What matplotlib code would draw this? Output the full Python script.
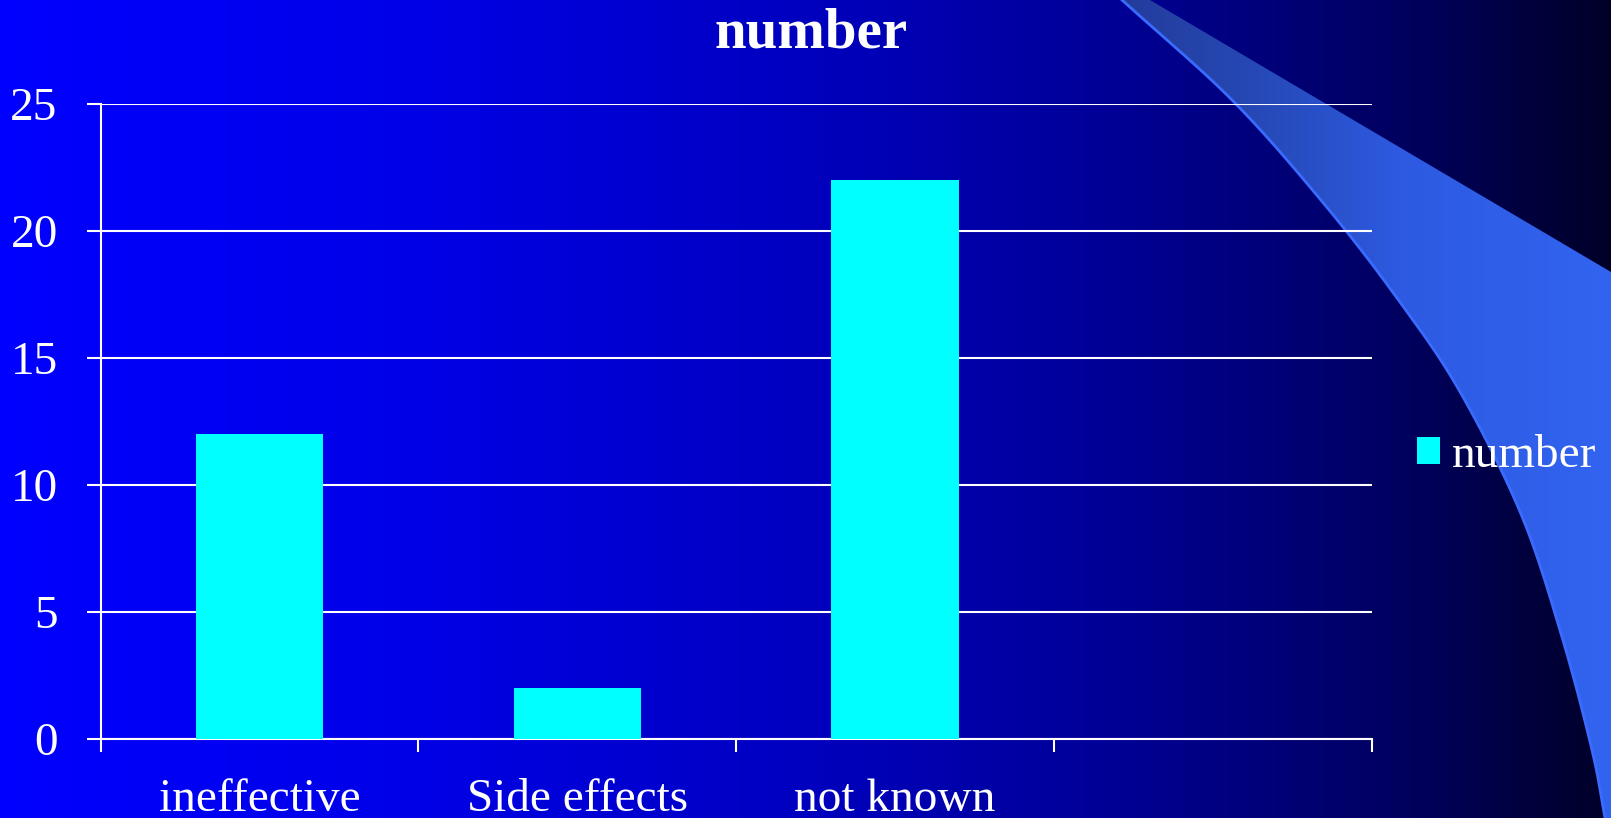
import numpy as np
import matplotlib
matplotlib.use("Agg")
import matplotlib.pyplot as plt
from matplotlib.patches import Polygon, Patch

# ---- data ----
categories = ["ineffective", "Side effects", "not known", ""]
values = [12, 2, 22]
series_name = "number"
title = "number"
yticks = [0, 5, 10, 15, 20, 25]

W, H = 1611, 818
fig = plt.figure(figsize=(W / 100, H / 100), dpi=100)
plt.rcParams['font.family'] = ['Liberation Serif', 'DejaVu Serif']


def catmull_rom(pts, n=30):
    pts = np.asarray(pts, float)
    P = np.vstack([2 * pts[0] - pts[1], pts, 2 * pts[-1] - pts[-2]])
    out = []
    for i in range(1, len(P) - 2):
        p0, p1, p2, p3 = P[i - 1], P[i], P[i + 1], P[i + 2]
        for t in np.linspace(0, 1, n, endpoint=False):
            t2, t3 = t * t, t * t * t
            out.append(0.5 * ((2 * p1) + (-p0 + p2) * t +
                              (2 * p0 - 5 * p1 + 4 * p2 - p3) * t2 +
                              (-p0 + 3 * p1 - 3 * p2 + p3) * t3))
    out.append(pts[-1])
    return np.array(out)


# ---- background (gradient + swoosh) ----
bg = fig.add_axes([0, 0, 1, 1], zorder=-10)
bg.set_xlim(0, W)
bg.set_ylim(H, 0)
bg.axis('off')
xs = np.arange(W)
stops_x = [0, 400, 800, 1100, 1400, 1611]
stops_b = [255, 232, 192, 152, 96, 40]
blue = np.interp(xs, stops_x, stops_b) / 255.0
img = np.zeros((2, W, 3))
img[:, :, 2] = blue
bg.imshow(img, extent=(0, W, H, 0), aspect='auto', interpolation='bilinear')

lower_ctrl = [(1122, 0), (1233, 101), (1325, 205), (1397, 298), (1459, 390),
              (1521, 514), (1562, 637), (1592, 750), (1605, 818)]
lower_edge = catmull_rom(lower_ctrl)
upper_edge = np.array([(1150, 0), (1611, 272)])
poly_pts = np.vstack([upper_edge, [(1611, 818)], lower_edge[::-1]])
swoosh = Polygon(poly_pts, closed=True, facecolor='none', edgecolor='none')
bg.add_patch(swoosh)
sw = np.zeros((2, W, 3))
sx_stops = [0, 1120, 1250, 1400, 1611]
sw[:, :, 0] = np.interp(xs, sx_stops, [35, 35, 38, 45, 50]) / 255
sw[:, :, 1] = np.interp(xs, sx_stops, [60, 60, 72, 90, 100]) / 255
sw[:, :, 2] = np.interp(xs, sx_stops, [155, 155, 180, 225, 240]) / 255
im2 = bg.imshow(sw, extent=(0, W, H, 0), aspect='auto', interpolation='bilinear')
im2.set_clip_path(swoosh)
bg.plot(lower_edge[:, 0], lower_edge[:, 1], color='#3A6BFF', lw=2)

# ---- main chart ----
left, right = 100.7 / W, 1371.6 / W
bottom, top = 1 - 738.7 / H, 1 - 103.8 / H
ax = fig.add_axes([left, bottom, right - left, top - bottom])
ax.patch.set_alpha(0)

x = np.arange(len(values))
ax.bar(x, values, width=0.4, color='#00FFFF', zorder=3, label=series_name)

ax.set_xlim(-0.5, len(categories) - 0.5)
ax.set_ylim(0, 25)
ax.set_yticks(yticks)
ax.set_yticklabels([str(t) for t in yticks])
ax.grid(axis='y', color='white', lw=1.5, zorder=1)
ax.set_axisbelow(True)

ax.set_xticks(np.arange(len(categories) + 1) - 0.5)
ax.set_xticklabels([''] * (len(categories) + 1))
ax.set_xticks(np.arange(len(categories)), minor=True)
ax.set_xticklabels(categories, minor=True)
ax.tick_params(axis='x', which='major', length=9.5, width=1.5, color='white', direction='out')
ax.tick_params(axis='x', which='minor', length=0, pad=29, labelsize=34, labelcolor='white')
ax.tick_params(axis='y', which='major', length=10, width=1.5, color='white', direction='out',
               pad=21, labelsize=34, labelcolor='white')

for s in ['top', 'right']:
    ax.spines[s].set_visible(False)
for s in ['left', 'bottom']:
    ax.spines[s].set_color('white')
    ax.spines[s].set_linewidth(1.5)

fig.text(811 / W, 1 - 48 / H, title, ha='center', va='baseline', fontsize=41,
         fontweight='bold', color='white')

leg = ax.legend(handles=[Patch(facecolor='#00FFFF', label=series_name)],
                loc='center left', bbox_to_anchor=(1417 / W, 1 - 456 / H),
                bbox_transform=fig.transFigure, frameon=False, fontsize=34,
                borderaxespad=0, borderpad=0, handlelength=0.48, handleheight=0.48,
                handletextpad=0.26)
for t in leg.get_texts():
    t.set_color('white')

fig.savefig('out.png', dpi=100)
